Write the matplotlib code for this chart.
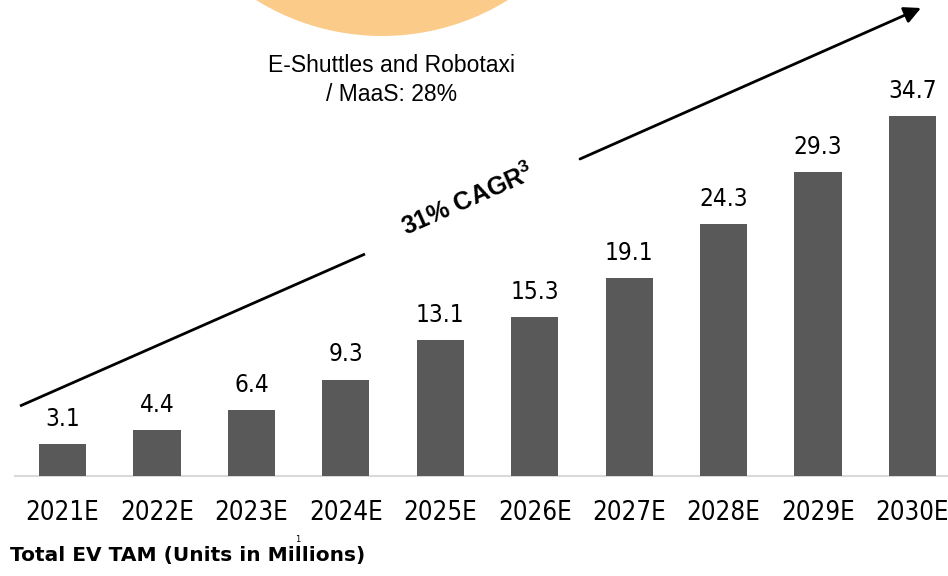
import matplotlib
matplotlib.use("Agg")
import matplotlib.pyplot as plt
from matplotlib.patches import Circle
import numpy as np

# data
years = ["2021E", "2022E", "2023E", "2024E", "2025E",
         "2026E", "2027E", "2028E", "2029E", "2030E"]
units = [3.1, 4.4, 6.4, 9.3, 13.1, 15.3, 19.1, 24.3, 29.3, 34.7]
bubble_note = "E-Shuttles and Robotaxi\n/ MaaS: 28%"
cagr_note = "31% CAGR$^{3}$"
footer = "Total EV TAM (Units in Millions)"
footer_mark = "1"  # stray footnote mark over the "l" in the source slide

plt.rcParams["mathtext.fontset"] = "custom"
plt.rcParams["mathtext.rm"] = "Liberation Sans:bold"
plt.rcParams["mathtext.bf"] = "Liberation Sans:bold"

W, H = 948, 576
fig = plt.figure(figsize=(W / 100, H / 100), dpi=100)

# bar axes: bottom edge sits on the baseline
base = 100
ax = fig.add_axes([0, base / H, 1, (H - base) / H])
x = np.arange(len(years))
ax.bar(x, units, width=0.5, color="#595959", zorder=3)
ax.set_xlim(-0.662, 9.376)
ax.set_ylim(0, (H - base) / 10.375)

for xi, v in zip(x, units):
    ax.annotate(f"{v:.1f}", (xi, v), xytext=(0, 13), textcoords="offset points",
                ha="center", va="baseline", fontsize=17.5,
                family="DejaVu Sans", fontstretch="condensed", color="#000000")

ax.set_xticks(x)
ax.set_xticklabels(years, fontsize=18.5, family="DejaVu Sans", fontstretch="condensed")
ax.tick_params(axis="x", length=0, pad=17)
ax.set_yticks([])
for s in ["top", "left", "right"]:
    ax.spines[s].set_visible(False)
ax.spines["bottom"].set_color("#D9D9D9")
ax.spines["bottom"].set_linewidth(1.5)
ax.spines["bottom"].set_bounds(-0.5, 9.376)
ax.patch.set_alpha(0)

# overlay in pixel coordinates for the decorations
ov = fig.add_axes([0, 0, 1, 1], zorder=-1)
ov.set_xlim(0, W)
ov.set_ylim(H, 0)
ov.axis("off")
ov.add_patch(Circle((382, -202.5), 238.5, color="#FBCB8A", lw=0))
ov.text(392, 80, bubble_note, ha="center", va="center", fontsize=16.5,
        family="Liberation Sans", linespacing=1.3)

ov2 = fig.add_axes([0, 0, 1, 1], zorder=5)
ov2.set_xlim(0, W)
ov2.set_ylim(H, 0)
ov2.axis("off")
ov2.plot([20, 365], [406, 254], color="black", lw=2, solid_capstyle="butt")
ov2.annotate("", xy=(921, 8), xytext=(580, 159),
             arrowprops=dict(arrowstyle="-|>,head_length=1.0,head_width=0.5",
                             color="black", lw=2, shrinkA=0, shrinkB=0))
ov2.text(468, 200, cagr_note, ha="center", va="center", rotation=23.8,
         rotation_mode="anchor", fontsize=18, fontweight="bold",
         family="Liberation Sans")

ft = fig.text(10 / W, 21 / H, footer, ha="left", va="center", fontsize=14.5,
              fontweight="bold", family="DejaVu Sans")

# place the stray mark just above the first "l" of "Millions"
r = fig.canvas.get_renderer()
pre = fig.text(10 / W, 21 / H, footer[:footer.index("Mi") + 2], ha="left", va="center",
               fontsize=14.5, fontweight="bold", family="DejaVu Sans")
px = pre.get_window_extent(r).x1
pre.remove()
top = ft.get_window_extent(r).y1
fig.text((px + 3) / W, (top + 1) / H, footer_mark, ha="center", va="bottom",
         fontsize=6, family="DejaVu Sans", color="#000000")

fig.savefig("out.png", dpi=100)
